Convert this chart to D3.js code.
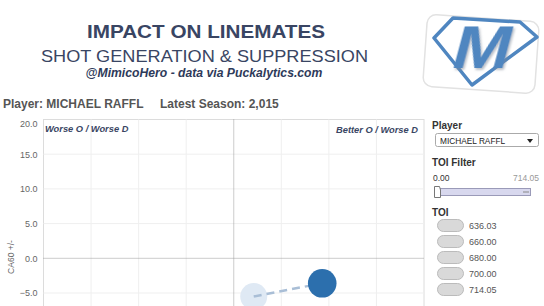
<!DOCTYPE html>
<html>
<head>
<meta charset="utf-8">
<script src="https://cdn.jsdelivr.net/npm/d3@7"></script>
<style>
body { margin: 0; background: #fff; }
svg { font-family: "Liberation Sans", Arial, sans-serif; display: block; }
</style>
</head>
<body>
<svg id="chart"></svg>
<script>
// data
var seasons = ["2014", "2015"];
var cf60Diff = [2.1, 9.3];      // x: CF60 +/-
var ca60Diff = [-5.5, -3.6];    // y: CA60 +/-
var pointColors = ["#dfe9f4", "#2c6fad"];
var yTicks = [-5, 0, 5, 10, 15, 20];
var xGrid = [-20, -15, -10, -5, 0, 5, 10, 15, 20];
var toiLegend = ["636.03", "660.00", "680.00", "700.00", "714.05"];
var toiMin = "0.00", toiMax = "714.05";

var W = 544, H = 306;
var svg = d3.select("#chart").attr("width", W).attr("height", H);

// soft shadow for the logo letter
var f = svg.append("defs").append("filter").attr("id", "sh")
    .attr("x", "-20%").attr("y", "-20%").attr("width", "150%").attr("height", "150%");
f.append("feDropShadow").attr("dx", 2).attr("dy", 2).attr("stdDeviation", 1.2)
    .attr("flood-color", "#7a8594").attr("flood-opacity", 0.5);

// header text
var navy = "#394563";
svg.append("text").attr("x", 87).attr("y", 38)
    .attr("textLength", 238).attr("lengthAdjust", "spacingAndGlyphs")
    .style("font-size", "19px").style("font-weight", "bold").attr("fill", navy)
    .text("IMPACT ON LINEMATES");
svg.append("text").attr("x", 41).attr("y", 62)
    .attr("textLength", 327).attr("lengthAdjust", "spacingAndGlyphs")
    .style("font-size", "17px").attr("fill", navy)
    .text("SHOT GENERATION & SUPPRESSION");
svg.append("text").attr("x", 204).attr("y", 77).attr("text-anchor", "middle")
    .style("font-size", "12.2px").style("font-weight", "bold").style("font-style", "italic").attr("fill", "#2e3a5a")
    .text("@MimicoHero - data via Puckalytics.com");

// logo card
var blue = "#4f86c0";
var logo = svg.append("g");
logo.append("rect").attr("x", 425).attr("y", 18).attr("width", 112).attr("height", 72).attr("rx", 9)
    .attr("transform", "rotate(4,481,54)")
    .attr("fill", "#fff").attr("stroke", "#e2e2e2").attr("stroke-width", 1.5);
var shield = [[434, 38], [453, 18], [520, 22], [537, 37], [472, 85]];
logo.append("polygon").attr("points", shield.map(function(p){ return p.join(","); }).join(" "))
    .attr("fill", "#fff").attr("stroke", blue).attr("stroke-width", 3.5).attr("stroke-linejoin", "round");
logo.append("g").attr("transform", "translate(478,68) skewX(-15)")
    .append("text").attr("x", 0).attr("y", 0).attr("text-anchor", "middle")
    .attr("textLength", 58).attr("lengthAdjust", "spacingAndGlyphs")
    .style("font-weight", "bold")
    .style("font-size", "60px").attr("fill", blue).attr("filter", "url(#sh)").text("M");

// player line
svg.append("text").attr("x", 3).attr("y", 108)
    .style("font-size", "12px").style("font-weight", "bold").attr("fill", "#555")
    .text("Player: MICHAEL RAFFL");
svg.append("text").attr("x", 160).attr("y", 108)
    .style("font-size", "12px").style("font-weight", "bold").attr("fill", "#555")
    .text("Latest Season: 2,015");

// plot
var plotL = 43.5, plotR = 424, plotT = 119.5;
var x = d3.scaleLinear().domain([-20, 20]).range([plotL, plotR]);
var y = d3.scaleLinear().domain([-20, 20]).range([plotT + 8 * 34.7, plotT]);

svg.append("rect").attr("x", plotL).attr("y", plotT).attr("width", plotR - plotL).attr("height", 300)
    .attr("fill", "none").attr("stroke", "#dcdcdc");

svg.selectAll(".vgrid").data(xGrid.filter(function(d){ return d != 0 && Math.abs(d) != 20; })).enter()
    .append("line").attr("class", "vgrid")
    .attr("x1", function(d){ return x(d); }).attr("x2", function(d){ return x(d); })
    .attr("y1", plotT).attr("y2", H)
    .attr("stroke", "#efefef");

svg.selectAll(".hgrid").data(yTicks.filter(function(d){ return d != 0 && d != 20; })).enter()
    .append("line").attr("class", "hgrid")
    .attr("x1", plotL).attr("x2", plotR)
    .attr("y1", function(d){ return y(d); }).attr("y2", function(d){ return y(d); })
    .attr("stroke", "#efefef");

// zero lines, dotted
svg.append("line").attr("x1", x(0)).attr("x2", x(0)).attr("y1", plotT).attr("y2", H)
    .attr("stroke", "#999").attr("stroke-dasharray", "1,1");
svg.append("line").attr("x1", plotL).attr("x2", plotR).attr("y1", y(0)).attr("y2", y(0))
    .attr("stroke", "#999").attr("stroke-dasharray", "1,1");

// y axis
var yAxis = d3.axisLeft(y).tickValues(yTicks).tickSize(0).tickPadding(6)
    .tickFormat(d3.format(".1f"));
var ya = svg.append("g").attr("transform", "translate(" + plotL + ",0)").call(yAxis);
ya.select(".domain").remove();
ya.selectAll("text").style("font-size", "9px").style("font-family", "'Liberation Sans', Arial, sans-serif")
    .attr("fill", "#666")
    .attr("dy", function(d){ return d == 20 ? "0.75em" : "0.32em"; });
svg.append("text").attr("transform", "translate(14,257) rotate(-90)").attr("text-anchor", "middle")
    .style("font-size", "8.5px").attr("fill", "#666").text("CA60 +/-");

// quadrant labels
svg.append("text").attr("x", 45).attr("y", 132)
    .style("font-size", "9.3px").style("font-weight", "bold").style("font-style", "italic").attr("fill", navy)
    .text("Worse O / Worse D");
svg.append("text").attr("x", 418).attr("y", 133).attr("text-anchor", "end")
    .style("font-size", "9.3px").style("font-weight", "bold").style("font-style", "italic").attr("fill", navy)
    .text("Better O / Worse D");

// season points joined by a dashed path
var pts = seasons.map(function(s, i){ return { season: s, cf: cf60Diff[i], ca: ca60Diff[i], c: pointColors[i] }; });
var line = d3.line().x(function(d){ return x(d.cf); }).y(function(d){ return y(d.ca); });

svg.selectAll(".pt").data(pts).enter().append("circle").attr("class", "pt")
    .attr("cx", function(d){ return x(d.cf); }).attr("cy", function(d){ return y(d.ca); })
    .attr("r", function(d, i){ return i == 0 ? 13.5 : 14.3; })
    .attr("fill", function(d){ return d.c; });
svg.append("path").datum(pts).attr("d", line)
    .attr("fill", "none").attr("stroke", "#a9bed6").attr("stroke-width", 2.5).attr("stroke-dasharray", "8,5");
svg.selectAll(".pt").filter(function(d, i){ return i == 1; }).raise();

// right panel
var px = 432;
svg.append("text").attr("x", px).attr("y", 129).style("font-size", "10px").style("font-weight", "bold")
    .attr("fill", "#333").text("Player");
svg.append("rect").attr("x", 435.5).attr("y", 133.5).attr("width", 103).attr("height", 13).attr("rx", 2)
    .attr("fill", "#fff").attr("stroke", "#aaa");
svg.append("text").attr("x", 440).attr("y", 143.5).style("font-size", "8.3px").attr("fill", "#222")
    .text("MICHAEL RAFFL");
svg.append("path").attr("d", "M527,139 L533,139 L530,143 Z").attr("fill", "#222");

svg.append("text").attr("x", px).attr("y", 166).style("font-size", "10px").style("font-weight", "bold")
    .attr("fill", "#333").text("TOI Filter");
svg.append("text").attr("x", 433).attr("y", 181).style("font-size", "8.5px").attr("fill", "#333").text(toiMin);
svg.append("text").attr("x", 539).attr("y", 181).attr("text-anchor", "end").style("font-size", "8.5px")
    .attr("fill", "#999").text(toiMax);
svg.append("rect").attr("x", 437.5).attr("y", 188.5).attr("width", 93).attr("height", 7)
    .attr("fill", "#d8d8ee").attr("stroke", "#9a9ab8");
svg.append("line").attr("x1", 523).attr("x2", 529).attr("y1", 192).attr("y2", 192).attr("stroke", "#888");
svg.append("path").attr("d", "M434.5,186.5 L439.5,186.5 L440.5,190 L440.5,197.5 L434.5,197.5 Z")
    .attr("fill", "#fff").attr("stroke", "#777");

svg.append("text").attr("x", px).attr("y", 216).style("font-size", "10px").style("font-weight", "bold")
    .attr("fill", "#333").text("TOI");
var lg = svg.selectAll(".lg").data(toiLegend).enter().append("g").attr("class", "lg")
    .attr("transform", function(d, i){ return "translate(437," + (219 + i * 16) + ")"; });
lg.append("rect").attr("x", 0.5).attr("y", 0.5).attr("width", 26).attr("height", 12).attr("rx", 6)
    .attr("fill", "#d9d9d9").attr("stroke", "#bbb");
lg.append("text").attr("x", 32).attr("y", 10).style("font-size", "9px").attr("fill", "#555")
    .text(function(d){ return d; });
</script>
</body>
</html>
